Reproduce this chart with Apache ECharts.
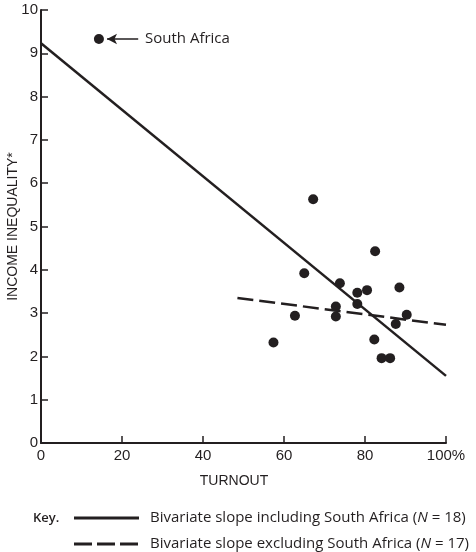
<!DOCTYPE html>
<html>
<head>
<meta charset="utf-8">
<script src="https://cdn.jsdelivr.net/npm/echarts@6/dist/echarts.min.js"></script>
<style>
html, body { margin: 0; padding: 0; background: #fff; }
#chart { width: 476px; height: 552px; }
</style>
</head>
<body>
<div id="chart"></div>
<script>
// turnout (%) and income inequality
let southAfrica = [14.3, 9.33];
let turnout = [67.2, 82.5, 65.0, 73.8, 78.1, 80.5, 88.5, 78.1, 72.8, 72.8, 62.7, 90.3, 87.6, 57.4, 82.3, 84.1, 86.2];
let inequality = [5.63, 4.43, 3.92, 3.69, 3.47, 3.53, 3.59, 3.21, 3.15, 2.92, 2.94, 2.96, 2.75, 2.32, 2.39, 1.96, 1.96];
// fitted slopes: [x, y] end points
let slopeWith = [[0, 9.23], [100, 1.55]];
let slopeWithout = [[48.5, 3.35], [100, 2.73]];
let xTicks = [0, 20, 40, 60, 80, 100];
let keyLabels = ['Bivariate slope including South Africa (', 'Bivariate slope excluding South Africa ('];
let keyN = [18, 17];

let ink = '#231f20';
let chart = echarts.init(document.getElementById('chart'));

let points = turnout.map(function (t, i) { return [t, inequality[i]]; });
points.push(southAfrica);

let keyGraphics = [{
    type: 'text', x: 33, y: 518,
    style: {text: 'Key.', font: '600 13px "Open Sans"', fill: ink, verticalAlign: 'middle'}
}];
keyLabels.forEach(function (lbl, i) {
    let y = 518 + i * 26;
    keyGraphics.push({
        type: 'line', shape: {x1: 74, y1: y, x2: 139, y2: y},
        style: {stroke: ink, lineWidth: 3, lineDash: i === 0 ? null : [18, 5]}
    });
    keyGraphics.push({
        type: 'text', x: 150, y: y,
        style: {
            text: lbl + '{i|N} = ' + keyN[i] + ')',
            font: '15px "Open Sans"', fill: ink, verticalAlign: 'middle',
            rich: {i: {fontStyle: 'italic', fontFamily: 'Open Sans', fontSize: 15, fill: ink}}
        }
    });
});

let option = {
    animation: false,
    grid: {left: 41, right: 30, top: 10, bottom: 109, containLabel: false, outerBoundsMode: 'none'},
    xAxis: {
        type: 'value', min: 0, max: 100, interval: 20,
        name: 'TURNOUT', nameLocation: 'middle', nameGap: 31,
        nameTextStyle: {color: ink, fontFamily: 'Liberation Sans', fontSize: 14, padding: [0, 19, 0, 0]},
        axisLine: {show: true, lineStyle: {color: ink, width: 2}},
        axisTick: {show: true, inside: true, length: 7, lineStyle: {color: ink, width: 1.5}},
        axisLabel: {
            color: ink, fontFamily: 'Liberation Sans', fontSize: 15, margin: 5,
            formatter: function (v) { return v === 100 ? '100%' : String(v); },
            customValues: xTicks
        },
        splitLine: {show: false}
    },
    yAxis: {
        type: 'value', min: 0, max: 10, interval: 1,
        name: 'INCOME INEQUALITY*', nameLocation: 'middle', nameGap: 21, nameRotate: 90,
        nameMoveOverlap: false,
        nameTextStyle: {color: ink, fontFamily: 'Liberation Sans', fontSize: 14, padding: [0, 0, 0, 0]},
        axisLine: {show: true, lineStyle: {color: ink, width: 2}},
        axisTick: {show: true, inside: true, length: 7, lineStyle: {color: ink, width: 1.5}},
        axisLabel: {color: ink, fontFamily: 'Liberation Sans', fontSize: 15, margin: 3},
        splitLine: {show: false}
    },
    series: [
        {
            type: 'line', data: slopeWith, symbol: 'none', silent: true,
            lineStyle: {color: ink, width: 2.5}
        },
        {
            type: 'line', data: slopeWithout, symbol: 'none', silent: true,
            lineStyle: {color: ink, width: 2.5, type: [16, 6]}
        },
        {
            type: 'scatter', data: points, symbolSize: 10,
            itemStyle: {color: ink, opacity: 1},
            markLine: {
                silent: true, symbol: ['none', 'arrow'], symbolSize: [8, 10],
                lineStyle: {color: ink, width: 1.5, type: 'solid'},
                label: {show: false},
                data: [[{coord: [24, southAfrica[1]]}, {coord: [16.3, southAfrica[1]]}]]
            }
        }
    ],
    graphic: [{
        type: 'text', x: 145, y: 39,
        style: {text: 'South Africa', font: '15px "Open Sans"', fill: ink, verticalAlign: 'middle'}
    }].concat(keyGraphics)
};

chart.setOption(option);
</script>
</body>
</html>
